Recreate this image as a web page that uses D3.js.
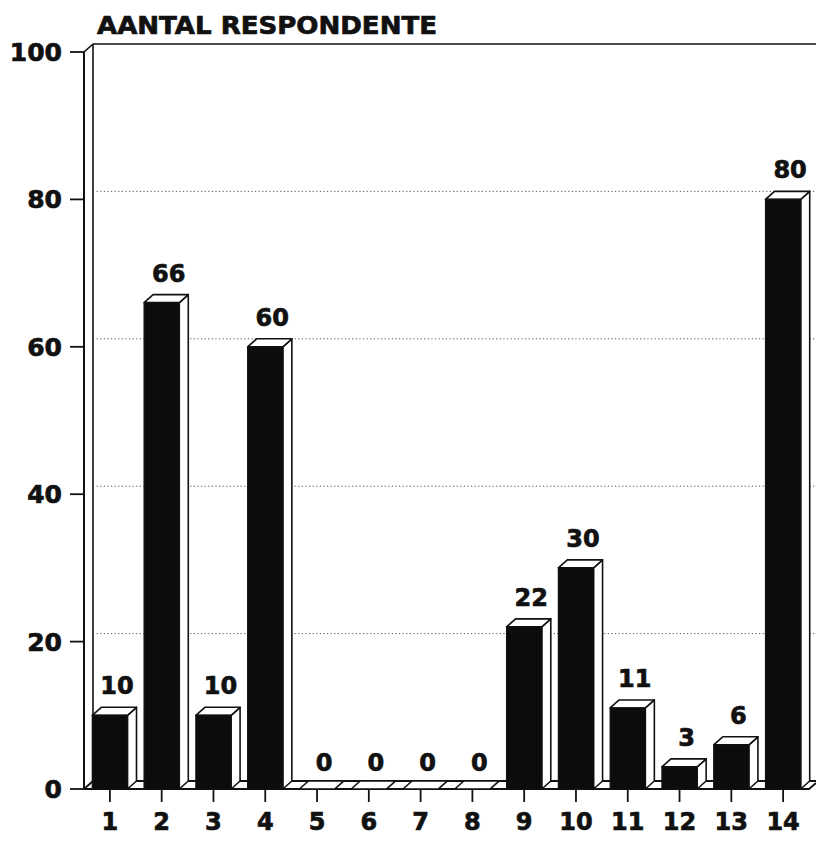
<!DOCTYPE html>
<html><head><meta charset="utf-8">
<script src="https://cdn.jsdelivr.net/npm/d3@7"></script>
<style>
html,body{margin:0;padding:0;background:#fff;}
svg{display:block;}
text{font-family:"DejaVu Sans",sans-serif;font-weight:bold;fill:#111;stroke:#111;stroke-width:0.7px;}
</style></head>
<body><svg id="c" width="816" height="850"></svg>
<script>
const categories = ["1","2","3","4","5","6","7","8","9","10","11","12","13","14"];
const values = [10,66,10,60,0,0,0,0,22,30,11,3,6,80];
const yTicks = [0,20,40,60,80,100];
const gridTicks = [20,40,60,80];
const titleText = "AANTAL RESPONDENTE";

const svg = d3.select("#c");
const dx = 9, dy = -8;
const x = d3.scaleBand().domain(categories).range([84, 809]).paddingInner(0.32).paddingOuter(0.16);
const y = d3.scaleLinear().domain([0, 100]).range([789, 52]);
const xL = 84, xR = 809;

// title
svg.append("text").attr("x", 97).attr("y", 34).attr("font-size", 24)
  .attr("textLength", 340).attr("lengthAdjust", "spacingAndGlyphs").text(titleText);

// back wall top line and left wall
const g = svg.append("g").attr("fill", "none").attr("stroke", "#111").attr("stroke-width", 1.6);
g.append("line").attr("x1", xL + dx).attr("y1", y(100) + dy).attr("x2", 816).attr("y2", y(100) + dy);
g.append("line").attr("x1", xL).attr("y1", y(100)).attr("x2", xL + dx).attr("y2", y(100) + dy);
g.append("line").attr("x1", xL).attr("y1", y(100)).attr("x2", xL).attr("y2", y(0)).attr("stroke-width", 2);
g.append("line").attr("x1", xL + dx).attr("y1", y(100) + dy).attr("x2", xL + dx).attr("y2", y(0) + dy);

// gridlines (dotted, on back wall)
svg.append("g").selectAll("line").data(gridTicks).join("line")
  .attr("x1", xL + dx).attr("x2", 816)
  .attr("y1", d => y(d) + dy).attr("y2", d => y(d) + dy)
  .attr("stroke", "#555").attr("stroke-width", 1).attr("stroke-dasharray", "1.2,2.4");

// floor
svg.append("path")
  .attr("d", `M${xL},${y(0)}L${xL + dx},${y(0) + dy}L${816},${y(0) + dy}M${xL},${y(0)}L${xR},${y(0)}L${xR + 7},${y(0) + dy + 2}`)
  .attr("fill", "none").attr("stroke", "#111").attr("stroke-width", 1.8);

// y axis ticks + labels
const ya = svg.append("g");
ya.selectAll("line").data(yTicks).join("line")
  .attr("x1", 70).attr("x2", xL).attr("y1", d => y(d)).attr("y2", d => y(d))
  .attr("stroke", "#111").attr("stroke-width", 1.8);
ya.selectAll("text").data(yTicks).join("text")
  .attr("x", 62).attr("y", d => y(d)).attr("dy", "0.36em")
  .attr("text-anchor", "end").attr("font-size", 25).text(d => d);

// x axis ticks + labels
const xa = svg.append("g");
xa.selectAll("line").data(categories).join("line")
  .attr("x1", d => x(d) + x.bandwidth() / 2).attr("x2", d => x(d) + x.bandwidth() / 2)
  .attr("y1", y(0)).attr("y2", y(0) + 13)
  .attr("stroke", "#111").attr("stroke-width", 1.8);
xa.selectAll("text").data(categories).join("text")
  .attr("x", d => x(d) + x.bandwidth() / 2).attr("y", 830)
  .attr("text-anchor", "middle").attr("font-size", 24).text(d => d);

// bars
const data = categories.map((c, i) => ({c, v: values[i]}));
const bars = svg.append("g").selectAll("g").data(data).join("g");
const w = x.bandwidth();
bars.append("path") // right face
  .attr("d", d => { const x0 = x(d.c) + w, yt = y(d.v), yb = y(0);
    return `M${x0},${yt}L${x0 + dx},${yt + dy}L${x0 + dx},${yb + dy}L${x0},${yb}Z`; })
  .attr("fill", "#fff").attr("stroke", "#111").attr("stroke-width", 1.6).attr("stroke-linejoin", "round");
bars.append("path") // top face
  .attr("d", d => { const x0 = x(d.c), yt = y(d.v);
    return `M${x0},${yt}L${x0 + dx},${yt + dy}L${x0 + w + dx},${yt + dy}L${x0 + w},${yt}Z`; })
  .attr("fill", "#fff").attr("stroke", "#111").attr("stroke-width", 1.6).attr("stroke-linejoin", "round");
bars.append("rect") // front face
  .attr("x", d => x(d.c)).attr("y", d => y(d.v))
  .attr("width", w).attr("height", d => y(0) - y(d.v))
  .attr("fill", "#0c0c0c").attr("stroke", "#111").attr("stroke-width", 1.2);
bars.append("text")
  .attr("x", d => x(d.c) + w / 2 + 7).attr("y", d => y(d.v) + dy - (d.v === 0 ? 10 : 13))
  .attr("text-anchor", "middle").attr("font-size", 24).text(d => d.v);
</script></body></html>
